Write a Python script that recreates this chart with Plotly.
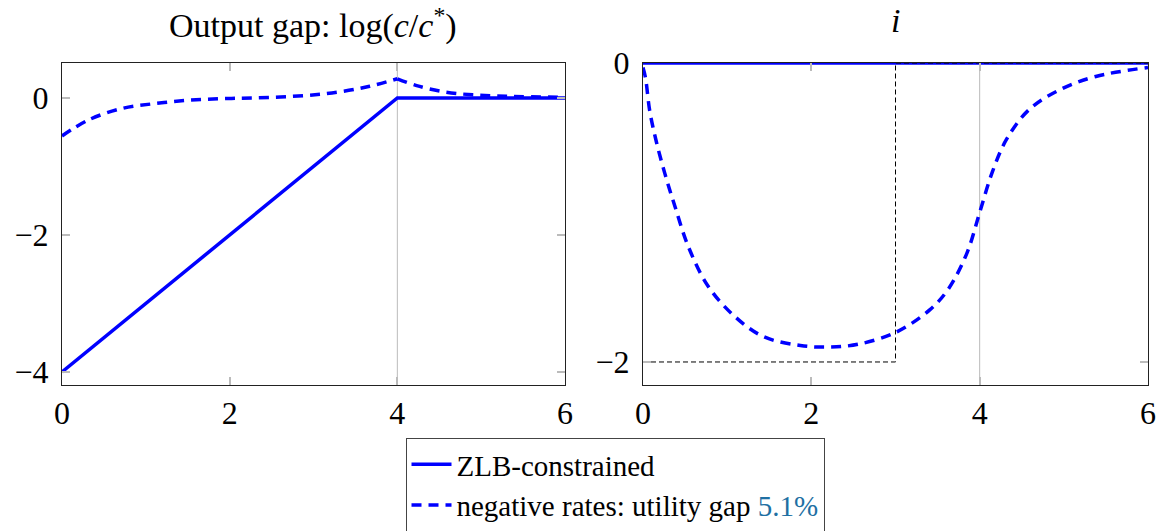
import plotly.graph_objects as go

# ---- data ----
t_zlb = [0, 4, 6]
gap_zlb = [-4, 0, 0]

# negative-rates output gap, before and after the kink at t = 4
t_neg_gap_a = [0, 0.31, 0.71, 1.11, 1.51, 1.9, 2.3, 2.9, 3.32, 3.67, 4.0]
gap_neg_a = [-0.555, -0.325, -0.155, -0.082, -0.034, -0.01, 0.0, 0.035, 0.09, 0.17, 0.28]
t_neg_gap_b = [4.0, 4.23, 4.55, 4.9, 5.3, 6.0]
gap_neg_b = [0.28, 0.18, 0.09, 0.045, 0.025, 0.01]

t_i = [0, 6]
i_zlb = [0, 0]

t_neg_i = [0, 0.03, 0.08, 0.16, 0.26, 0.38, 0.54, 0.77, 1.08, 1.43, 1.87, 2.22, 2.57, 3.01,
           3.41, 3.63, 3.85, 4.0, 4.15, 4.32, 4.59, 4.95, 5.38, 6.0]
i_neg = [-0.03, -0.10, -0.32, -0.53, -0.74, -0.96, -1.23, -1.49, -1.69, -1.83, -1.89, -1.90, -1.88, -1.80,
         -1.65, -1.51, -1.27, -1.00, -0.73, -0.51, -0.31, -0.18, -0.09, -0.03]

t_bound = [0, 3, 3, 6]
i_bound = [-2, -2, 0, 0]

x_ticks = [0, 2, 4, 6]
gap_ticks = [-4, -2, 0]
i_ticks = [-2, 0]

BLUE = "#0000ff"
FONT = "Liberation Serif"
FS = 32

# layout geometry (pixels)
W, H = 1158, 531
ML, MR, MT, MB = 62, 10, 63, 146
PW, PH = W - ML - MR, H - MT - MB


def px(x):
    return (x - ML) / PW


def py(y):
    return (H - MB - y) / PH


fig = go.Figure()

# left panel
fig.add_trace(go.Scatter(x=t_zlb, y=gap_zlb, mode="lines", name="ZLB-constrained",
                         line=dict(color=BLUE, width=3.5), xaxis="x", yaxis="y"))
fig.add_trace(go.Scatter(x=t_neg_gap_a, y=gap_neg_a, mode="lines",
                         name="negative rates: utility gap <span style='color:#1f70a3'>5.1%</span>",
                         line=dict(color=BLUE, width=3.5, dash="10px,7px", shape="spline"),
                         xaxis="x", yaxis="y"))
fig.add_trace(go.Scatter(x=t_neg_gap_b, y=gap_neg_b, mode="lines", showlegend=False,
                         line=dict(color=BLUE, width=3.5, dash="10px,7px", shape="spline"),
                         xaxis="x", yaxis="y"))

# right panel
fig.add_trace(go.Scatter(x=t_neg_i, y=i_neg, mode="lines", showlegend=False,
                         line=dict(color=BLUE, width=3.5, dash="10px,7px", shape="spline"),
                         xaxis="x2", yaxis="y2"))
fig.add_trace(go.Scatter(x=t_i, y=i_zlb, mode="lines", showlegend=False,
                         line=dict(color=BLUE, width=3.5), xaxis="x2", yaxis="y2",
                         cliponaxis=False))
fig.add_trace(go.Scatter(x=t_bound, y=i_bound, mode="lines", showlegend=False,
                         line=dict(color="black", width=1, dash="5px,3px"),
                         xaxis="x2", yaxis="y2", cliponaxis=False))

ax_common = dict(showgrid=False, zeroline=False, showline=True, linecolor="#222222", linewidth=1,
                 mirror="allticks", ticks="inside", ticklen=8, tickwidth=2, tickcolor="#bbbbbb",
                 automargin=False,
                 tickfont=dict(family=FONT, size=FS, color="black"))

fig.update_layout(
    width=W, height=H,
    margin=dict(l=ML, r=MR, t=MT, b=MB, autoexpand=False),
    paper_bgcolor="white", plot_bgcolor="white",
    font=dict(family=FONT, size=FS, color="black"),
    xaxis=dict(domain=[px(62), px(565)], range=[0, 6], tickvals=x_ticks, anchor="y", **ax_common),
    yaxis=dict(domain=[0, 1], range=[-4.19, 0.51], tickvals=gap_ticks, anchor="x",
               ticklabelstandoff=6, **ax_common),
    xaxis2=dict(domain=[px(643), px(1148)], range=[0, 6], tickvals=x_ticks, anchor="y2", **ax_common),
    yaxis2=dict(domain=[0, 1], range=[-2.154, 0.0], tickvals=i_ticks, anchor="x2",
                ticklabelstandoff=6, **ax_common),
    legend=dict(x=px(615), y=py(438), xanchor="center", yanchor="top",
                bordercolor="#444444", borderwidth=1, bgcolor="white",
                font=dict(family=FONT, size=29), itemwidth=40, tracegroupgap=0),
    showlegend=True,
)

# reference vertical line at x = 4 in both panels
for xr, yr in (("x", "y"), ("x2", "y2")):
    fig.add_shape(type="line", xref=xr, yref=f"{yr} domain", x0=4, x1=4, y0=0, y1=1,
                  line=dict(color="#bbbbbb", width=1), layer="below")

fig.add_annotation(text="Output gap: log(<i>c</i>/<i>c</i><sup>*</sup>)", x=px(313),
                   y=py(0), xref="paper", yref="paper", xanchor="center", yanchor="top",
                   showarrow=False, font=dict(family=FONT, size=34))
fig.add_annotation(text="<i>i</i>", x=px(895), y=py(0), xref="paper", yref="paper",
                   xanchor="center", yanchor="top", showarrow=False, font=dict(family=FONT, size=34))

fig.write_html("out.html")
